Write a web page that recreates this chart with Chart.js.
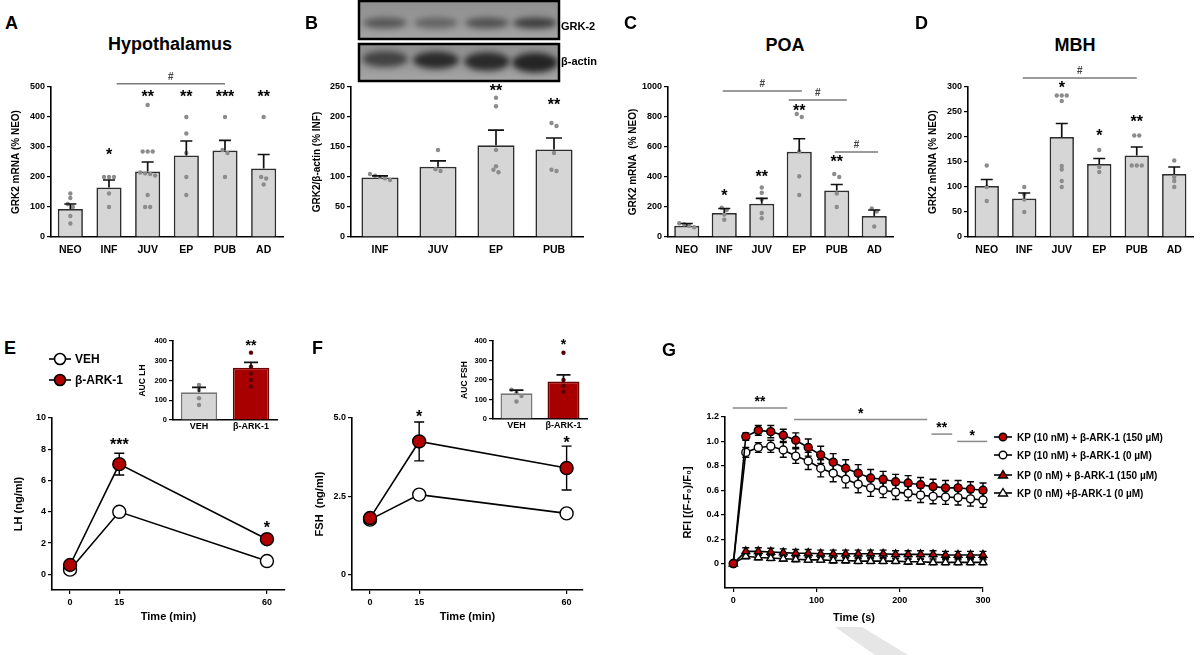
<!DOCTYPE html>
<html>
<head>
<meta charset="utf-8">
<script src="https://cdn.jsdelivr.net/npm/chart.js@4.4.1/dist/chart.umd.min.js"></script>
<style>
body{margin:0;background:#fff;width:1200px;height:655px;position:relative;overflow:hidden;
  font-family:'Liberation Sans',Arial,sans-serif;font-weight:bold;color:#000}
canvas{position:absolute}
.t{position:absolute;white-space:nowrap;line-height:1}
.let{font-size:18px}
.ttl{font-size:18px;transform:translateX(-50%)}
.lg{position:absolute;display:flex;align-items:center;white-space:nowrap}
.lg svg{margin-right:4px}
</style>
</head>
<body>
<canvas id="blot"></canvas>
<canvas id="wm"></canvas>
<canvas id="cA"></canvas>
<canvas id="cB"></canvas>
<canvas id="cC"></canvas>
<canvas id="cD"></canvas>
<canvas id="cE"></canvas>
<canvas id="cEi"></canvas>
<canvas id="cF"></canvas>
<canvas id="cFi"></canvas>
<canvas id="cG"></canvas>

<div class="t let" style="left:5px;top:14px">A</div>
<div class="t let" style="left:305px;top:14px">B</div>
<div class="t let" style="left:624px;top:14px">C</div>
<div class="t let" style="left:915px;top:14px">D</div>
<div class="t let" style="left:4px;top:339px">E</div>
<div class="t let" style="left:312px;top:339px">F</div>
<div class="t let" style="left:662px;top:341px">G</div>
<div class="t ttl" style="left:170px;top:35px">Hypothalamus</div>
<div class="t ttl" style="left:785px;top:36px">POA</div>
<div class="t ttl" style="left:1075px;top:36px">MBH</div>
<div class="t" style="left:561px;top:21px;font-size:11px">GRK-2</div>
<div class="t" style="left:561px;top:56px;font-size:11px">β-actin</div>

<div class="lg" style="left:49px;top:351px;font-size:12px">
  <svg width="22" height="16"><line x1="0" y1="8" x2="22" y2="8" stroke="#000" stroke-width="1.6"/><circle cx="11" cy="8" r="5.5" fill="#fff" stroke="#000" stroke-width="1.6"/></svg>VEH</div>
<div class="lg" style="left:49px;top:372px;font-size:12px">
  <svg width="22" height="16"><line x1="0" y1="8" x2="22" y2="8" stroke="#000" stroke-width="1.6"/><circle cx="11" cy="8" r="5.5" fill="#b00000" stroke="#000" stroke-width="1.6"/></svg>β-ARK-1</div>

<div id="legG"></div>

<script>
// ---- data ----
const stages = ['NEO', 'INF', 'JUV', 'EP', 'PUB', 'AD'];
const stagesB = ['INF', 'JUV', 'EP', 'PUB'];

const hypoMean = [93, 165, 218, 272, 288, 228];
const hypoSem = [17, 25, 32, 48, 34, 47];
const hypoDots = [
  [45, 70, 100, 110, 130, 145],
  [100, 145, 200, 200, 200],
  [100, 100, 140, 205, 210, 212, 215, 285, 285, 285, 440],
  [140, 200, 280, 345, 400],
  [200, 280, 290, 400],
  [175, 195, 200, 400]
];
const hypoTicks = [0, 100, 200, 300, 400, 500];

const wbMean = [99, 117, 153, 146];
const wbSem = [3, 10, 25, 19];
const wbDots = [
  [95, 98, 100, 102, 105],
  [110, 113, 145],
  [108, 112, 118, 145, 218, 232],
  [110, 112, 140, 185, 190]
];
const wbTicks = [0, 50, 100, 150, 200, 250];

const poaMean = [75, 160, 222, 568, 310, 140];
const poaSem = [15, 30, 36, 87, 40, 40];
const poaDots = [
  [65, 75, 85, 92],
  [115, 150, 180, 195],
  [125, 160, 250, 295, 330],
  [280, 405, 570, 800, 820],
  [200, 290, 400, 420],
  [70, 170, 190]
];
const poaTicks = [0, 200, 400, 600, 800, 1000];

const mbhMean = [102, 77, 200, 146, 163, 126];
const mbhSem = [13, 11, 27, 11, 17, 14];
const mbhDots = [
  [72, 100, 143],
  [50, 75, 85, 100],
  [100, 112, 135, 142, 272, 283, 283, 283],
  [130, 140, 174],
  [143, 143, 143, 203, 203],
  [100, 112, 120, 153]
];
const mbhTicks = [0, 50, 100, 150, 200, 250, 300];

const treat = ['VEH', 'β-ARK-1'];
const aucLhMean = [140, 265];
const aucLhSem = [25, 27];
const aucLhDots = [[76, 110, 152, 177], [169, 203, 236, 270, 341]];
const aucFshMean = [132, 192];
const aucFshSem = [16, 34];
const aucFshDots = [[90, 118, 135, 150], [140, 170, 200, 340]];
const aucTicks = [0, 100, 200, 300, 400];

const timeMin = [0, 15, 60];
const lhVeh = [0.3, 4.0, 0.85];
const lhVehSem = [0.1, 0.15, 0.1];
const lhArk = [0.6, 7.05, 2.25];
const lhArkSem = [0.15, 0.7, 0.2];
const lhTicks = [0, 2, 4, 6, 8, 10];
const fshVeh = [1.75, 2.55, 1.95];
const fshVehSem = [0.1, 0.1, 0.1];
const fshArk = [1.8, 4.25, 3.4];
const fshArkSem = [0.1, 0.62, 0.7];
const fshTicks = [0, 2.5, 5];
const fshTickLabels = ['0', '2.5', '5.0'];
const minTicks = [0, 15, 60];

const timeSec = [0, 15, 30, 45, 60, 75, 90, 105, 120, 135, 150, 165, 180, 195, 210, 225, 240, 255, 270, 285, 300];
const kp10Ark = [0, 1.04, 1.09, 1.08, 1.05, 1.01, 0.95, 0.89, 0.83, 0.78, 0.74, 0.70, 0.69, 0.67, 0.66, 0.645, 0.63, 0.62, 0.62, 0.61, 0.60];
const kp10ArkSem = [0, 0.03, 0.04, 0.05, 0.05, 0.06, 0.07, 0.07, 0.07, 0.07, 0.07, 0.07, 0.065, 0.06, 0.06, 0.06, 0.06, 0.06, 0.06, 0.06, 0.06];
const kp10Veh = [0, 0.91, 0.95, 0.96, 0.93, 0.88, 0.84, 0.78, 0.74, 0.69, 0.65, 0.62, 0.60, 0.585, 0.575, 0.56, 0.55, 0.545, 0.54, 0.53, 0.52];
const kp10VehSem = [0, 0.04, 0.04, 0.05, 0.06, 0.06, 0.07, 0.07, 0.07, 0.07, 0.07, 0.07, 0.06, 0.06, 0.06, 0.06, 0.06, 0.06, 0.06, 0.06, 0.06];
const kp0Ark = [0, 0.10, 0.10, 0.095, 0.09, 0.085, 0.085, 0.08, 0.08, 0.08, 0.08, 0.08, 0.08, 0.075, 0.075, 0.075, 0.075, 0.07, 0.07, 0.07, 0.07];
const kp0ArkSem = [0, 0.03, 0.03, 0.03, 0.03, 0.03, 0.03, 0.03, 0.03, 0.03, 0.03, 0.03, 0.03, 0.03, 0.03, 0.03, 0.03, 0.03, 0.03, 0.03, 0.03];
const kp0Veh = [0, 0.06, 0.05, 0.045, 0.04, 0.035, 0.03, 0.03, 0.025, 0.025, 0.02, 0.02, 0.02, 0.02, 0.015, 0.015, 0.01, 0.01, 0.01, 0.01, 0.01];
const kp0VehSem = [0, 0.02, 0.02, 0.02, 0.02, 0.02, 0.02, 0.02, 0.02, 0.02, 0.02, 0.02, 0.02, 0.02, 0.02, 0.02, 0.02, 0.02, 0.02, 0.02, 0.02];
const secTicks = [0, 100, 200, 300];
const rfiTicks = [0, 0.2, 0.4, 0.6, 0.8, 1.0, 1.2];
const rfiTickLabels = ['0', '0.2', '0.4', '0.6', '0.8', '1.0', '1.2'];
const gLabels = ['KP (10 nM) + β-ARK-1 (150 µM)', 'KP (10 nM) + β-ARK-1 (0 µM)', 'KP (0 nM) + β-ARK-1 (150 µM)', 'KP (0 nM) +β-ARK-1 (0 µM)'];

// ---- setup ----
Chart.defaults.font.family = "'Liberation Sans', Arial, sans-serif";
Chart.defaults.font.weight = 'bold';
Chart.defaults.color = '#000';
Chart.defaults.animation = false;
Chart.defaults.plugins.legend.display = false;
Chart.defaults.plugins.tooltip.enabled = false;

const FONT = "'Liberation Sans', Arial, sans-serif";
const fixY = w => s => { s.width = w; s.paddingTop = 0; s.paddingBottom = 0; };
const fixX = h => s => { s.height = h; s.paddingLeft = 0; s.paddingRight = 0; };
const setTicks = arr => s => { s.ticks = arr.map(v => ({value: v})); };

function place(cv, area, yW, xH, padT, padR, padB) {
  const left = area.l - yW, top = area.t - padT;
  const w = area.r - left + padR, h = area.b + xH + padB - top;
  cv.style.left = left + 'px'; cv.style.top = top + 'px';
  cv.width = w; cv.height = h;
  cv.style.width = w + 'px'; cv.style.height = h + 'px';
  return {left: 0, top: padT, right: padR, bottom: padB};
}

function jitter(ys, gap) {
  const order = ys.map((v, i) => i).sort((a, b) => ys[a] - ys[b]);
  const off = ys.map(() => 0);
  let grp = [];
  const flush = () => { grp.forEach((k, j) => { off[k] = (j - (grp.length - 1) / 2) * gap; }); grp = []; };
  order.forEach(k => {
    if (grp.length && Math.abs(ys[k] - ys[grp[grp.length - 1]]) > 3.5) flush();
    grp.push(k);
  });
  flush();
  return off;
}

// asterisks sit high in the em box, so push them down a bit
function star(ctx, text, x, y, size) {
  size = size || 16;
  ctx.font = 'bold ' + size + 'px ' + FONT;
  ctx.textAlign = 'center';
  ctx.textBaseline = 'middle';
  ctx.fillStyle = '#000';
  ctx.fillText(text, x, y + size * 0.25);
}

function barPanel(o) {
  const cv = document.getElementById(o.id);
  const pad = place(cv, o.area, o.yW, o.xH, o.padT || 30, 6, 2);
  const top = o.ticks[o.ticks.length - 1];
  new Chart(cv, {
    type: 'bar',
    data: {
      labels: o.labels,
      datasets: [{
        data: o.mean,
        backgroundColor: o.colors || '#d6d6d6',
        borderColor: o.borders || '#2e2e2e',
        borderWidth: 1.7,
        barPercentage: o.bp,
        categoryPercentage: 1
      }]
    },
    options: {
      responsive: false,
      layout: {padding: pad},
      scales: {
        x: {
          grid: {display: false, drawTicks: false},
          border: {display: true, color: '#000', width: 1.6},
          ticks: {font: {size: o.catSize || 10.5}, padding: o.catPad || 7, color: '#000', autoSkip: false, maxRotation: 0},
          afterFit: fixX(o.xH)
        },
        y: {
          min: 0, max: top,
          afterBuildTicks: setTicks(o.ticks),
          grid: {display: true, drawOnChartArea: false, drawTicks: true, tickLength: 4, color: '#000', lineWidth: 1.2},
          border: {display: true, color: '#000', width: 1.6},
          ticks: {font: {size: o.tickSize || 9}, padding: 2, color: '#000', callback: v => String(v)},
          title: {display: true, text: o.yTitle, font: {size: o.titleSize || 10}, padding: 0, color: '#000'},
          afterFit: fixY(o.yW)
        }
      }
    },
    plugins: [{
      id: 'marks',
      afterDatasetsDraw(chart) {
        const ctx = chart.ctx, ys = chart.scales.y, bars = chart.getDatasetMeta(0).data;
        ctx.save();
        // dots
        o.dots.forEach((vals, i) => {
          const py = vals.map(v => ys.getPixelForValue(v));
          const off = jitter(py, 5);
          ctx.fillStyle = o.dotColor ? o.dotColor[i] : '#8c8c8c';
          py.forEach((y, k) => {
            ctx.beginPath(); ctx.arc(bars[i].x + off[k], y, 2.2, 0, Math.PI * 2); ctx.fill();
          });
        });
        // error bars (upper)
        ctx.strokeStyle = '#111'; ctx.lineWidth = 1.7;
        bars.forEach((b, i) => {
          const y0 = ys.getPixelForValue(o.mean[i]), y1 = ys.getPixelForValue(o.mean[i] + o.sem[i]);
          ctx.beginPath();
          ctx.moveTo(b.x, y0); ctx.lineTo(b.x, y1);
          ctx.moveTo(b.x - o.cap, y1); ctx.lineTo(b.x + o.cap, y1);
          ctx.stroke();
        });
        // stars
        (o.stars || []).forEach(s => star(ctx, s.text, bars[s.i].x, ys.getPixelForValue(s.y), o.starSize));
        // # comparison lines
        const slot = bars[1].x - bars[0].x;
        (o.sigs || []).forEach(s => {
          const xa = bars[0].x + s.from * slot, xb = bars[0].x + s.to * slot, yy = ys.getPixelForValue(s.y);
          ctx.strokeStyle = '#7a7a7a'; ctx.lineWidth = 1.5;
          ctx.beginPath(); ctx.moveTo(xa, yy); ctx.lineTo(xb, yy); ctx.stroke();
          ctx.font = 'bold 10px ' + FONT; ctx.fillStyle = '#444';
          ctx.textAlign = 'center'; ctx.textBaseline = 'alphabetic';
          ctx.fillText('#', (xa + xb) / 2, yy - 4);
        });
        ctx.restore();
      }
    }]
  });
}

function linePanel(o) {
  const cv = document.getElementById(o.id);
  const pad = place(cv, o.area, o.yW, o.xH, o.padT || 30, 12, 2);
  new Chart(cv, {
    type: 'line',
    data: {
      datasets: o.series.map(s => ({
        data: o.x.map((t, i) => ({x: t, y: s.y[i]})),
        borderColor: '#000', borderWidth: 1.6,
        pointStyle: s.style, pointRadius: s.r,
        pointBackgroundColor: s.fill, pointBorderColor: '#000', pointBorderWidth: 1.4,
        tension: 0, order: s.order, clip: false
      }))
    },
    options: {
      responsive: false,
      layout: {padding: pad},
      scales: {
        x: {
          type: 'linear', min: o.xMin, max: o.xMax,
          afterBuildTicks: setTicks(o.xTicks),
          grid: {display: true, drawOnChartArea: false, drawTicks: true, tickLength: 4, color: '#000', lineWidth: 1.2},
          border: {display: true, color: '#000', width: 1.6},
          ticks: {font: {size: 9}, padding: 3, color: '#000', autoSkip: false, maxRotation: 0},
          title: {display: true, text: o.xTitle, font: {size: 11}, padding: 0, color: '#000'},
          afterFit: fixX(o.xH)
        },
        y: {
          min: o.yMin, max: o.yMax,
          afterBuildTicks: setTicks(o.yTicks),
          grid: {display: true, drawOnChartArea: false, drawTicks: true, tickLength: 4, color: '#000', lineWidth: 1.2},
          border: {display: true, color: '#000', width: 1.6},
          ticks: {font: {size: 9}, padding: 2, color: '#000',
            callback: (v, i) => o.yLabels ? o.yLabels[i] : String(v)},
          title: {display: true, text: o.yTitle, font: {size: 11}, padding: 0, color: '#000'},
          afterFit: fixY(o.yW)
        }
      }
    },
    plugins: [{
      id: 'errs',
      beforeDatasetsDraw(chart) {
        const ctx = chart.ctx, xs = chart.scales.x, ys = chart.scales.y;
        ctx.save();
        ctx.strokeStyle = '#000'; ctx.lineWidth = 1.4;
        o.series.forEach(s => {
          o.x.forEach((t, i) => {
            if (!s.sem[i]) return;
            const px = xs.getPixelForValue(t);
            const ya = ys.getPixelForValue(s.y[i] - s.sem[i]), yb = ys.getPixelForValue(s.y[i] + s.sem[i]);
            ctx.beginPath();
            ctx.moveTo(px, ya); ctx.lineTo(px, yb);
            ctx.moveTo(px - o.cap, ya); ctx.lineTo(px + o.cap, ya);
            ctx.moveTo(px - o.cap, yb); ctx.lineTo(px + o.cap, yb);
            ctx.stroke();
          });
        });
        ctx.restore();
      },
      afterDatasetsDraw(chart) {
        const ctx = chart.ctx, xs = chart.scales.x, ys = chart.scales.y;
        ctx.save();
        (o.sigs || []).forEach(s => {
          const yy = ys.getPixelForValue(s.y);
          ctx.strokeStyle = '#8a8a8a'; ctx.lineWidth = 1.5;
          ctx.beginPath(); ctx.moveTo(xs.getPixelForValue(s.x0), yy); ctx.lineTo(xs.getPixelForValue(s.x1), yy); ctx.stroke();
          star(ctx, s.text, xs.getPixelForValue((s.x0 + s.x1) / 2), yy - 9, 14);
        });
        (o.stars || []).forEach(s => star(ctx, s.text, xs.getPixelForValue(s.x), ys.getPixelForValue(s.y), 16));
        ctx.restore();
      }
    }]
  });
}

// ---- panels A-D ----
barPanel({id: 'cA', area: {l: 51, r: 283, t: 87, b: 237}, yW: 41, xH: 25, labels: stages,
  mean: hypoMean, sem: hypoSem, dots: hypoDots, ticks: hypoTicks, bp: 0.65, cap: 6,
  yTitle: 'GRK2 mRNA (% NEO)',
  stars: [{i: 1, text: '*', y: 285}, {i: 2, text: '**', y: 478}, {i: 3, text: '**', y: 478}, {i: 4, text: '***', y: 478}, {i: 5, text: '**', y: 478}],
  sigs: [{from: 1.2, to: 4.0, y: 511}]});

barPanel({id: 'cB', area: {l: 351, r: 583, t: 87, b: 237}, yW: 40, xH: 25, labels: stagesB,
  mean: wbMean, sem: wbSem, dots: wbDots, ticks: wbTicks, bp: 0.64, cap: 8,
  yTitle: 'GRK2/β-actin (% INF)',
  stars: [{i: 2, text: '**', y: 249}, {i: 3, text: '**', y: 226}]});

barPanel({id: 'cC', area: {l: 668, r: 893, t: 87, b: 237}, yW: 41, xH: 25, labels: stages,
  mean: poaMean, sem: poaSem, dots: poaDots, ticks: poaTicks, bp: 0.67, cap: 6,
  yTitle: 'GRK2 mRNA  (% NEO)',
  stars: [{i: 1, text: '*', y: 293}, {i: 2, text: '**', y: 422}, {i: 3, text: '**', y: 860}, {i: 4, text: '**', y: 520}],
  sigs: [{from: 0.96, to: 3.07, y: 973}, {from: 2.72, to: 4.27, y: 913}, {from: 3.95, to: 5.1, y: 567}]});

barPanel({id: 'cD', area: {l: 968, r: 1193, t: 87, b: 237}, yW: 41, xH: 25, labels: stages,
  mean: mbhMean, sem: mbhSem, dots: mbhDots, ticks: mbhTicks, bp: 0.65, cap: 6,
  yTitle: 'GRK2 mRNA (% NEO)',
  stars: [{i: 2, text: '*', y: 305}, {i: 3, text: '*', y: 208}, {i: 4, text: '**', y: 237}],
  sigs: [{from: 0.96, to: 4.0, y: 318}]});

// ---- E / F insets ----
barPanel({id: 'cEi', area: {l: 173, r: 277, t: 341, b: 420}, yW: 35, xH: 14, padT: 12, labels: treat,
  mean: aucLhMean, sem: aucLhSem, dots: aucLhDots, ticks: aucTicks, bp: 0.7, cap: 7,
  colors: ['#d6d6d6', '#a80000'], borders: ['#777', '#6a0000'], dotColor: ['#888', '#5a0000'],
  catSize: 9, catPad: 1, tickSize: 7.5, titleSize: 8.5, yTitle: 'AUC LH', starSize: 14,
  stars: [{i: 1, text: '**', y: 392}]});

barPanel({id: 'cFi', area: {l: 493, r: 587, t: 341, b: 419}, yW: 33, xH: 14, padT: 12, labels: treat,
  mean: aucFshMean, sem: aucFshSem, dots: aucFshDots, ticks: aucTicks, bp: 0.68, cap: 7,
  colors: ['#d6d6d6', '#a80000'], borders: ['#777', '#6a0000'], dotColor: ['#888', '#5a0000'],
  catSize: 9, catPad: 1, tickSize: 7.5, titleSize: 8.5, yTitle: 'AUC FSH', starSize: 14,
  stars: [{i: 1, text: '*', y: 395}]});

// ---- E / F time courses ----
linePanel({id: 'cE', area: {l: 52, r: 285, t: 418, b: 590}, yW: 40, xH: 34,
  x: timeMin, xMin: -5.5, xMax: 65.5, xTicks: minTicks, xTitle: 'Time (min)',
  yMin: -1, yMax: 10, yTicks: lhTicks, yTitle: 'LH (ng/ml)', cap: 5,
  series: [
    {y: lhArk, sem: lhArkSem, fill: '#b00000', style: 'circle', r: 6.5, order: 0},
    {y: lhVeh, sem: lhVehSem, fill: '#ffffff', style: 'circle', r: 6.5, order: 1}
  ],
  stars: [{x: 15, y: 8.5, text: '***'}, {x: 60, y: 3.2, text: '*'}]});

linePanel({id: 'cF', area: {l: 352, r: 583, t: 418, b: 590}, yW: 39, xH: 34,
  x: timeMin, xMin: -5.5, xMax: 65, xTicks: minTicks, xTitle: 'Time (min)',
  yMin: -0.5, yMax: 5, yTicks: fshTicks, yLabels: fshTickLabels, yTitle: 'FSH  (ng/ml)', cap: 5,
  series: [
    {y: fshArk, sem: fshArkSem, fill: '#b00000', style: 'circle', r: 6.5, order: 0},
    {y: fshVeh, sem: fshVehSem, fill: '#ffffff', style: 'circle', r: 6.5, order: 1}
  ],
  stars: [{x: 15, y: 5.15, text: '*'}, {x: 60, y: 4.3, text: '*'}]});

// ---- G calcium imaging ----
linePanel({id: 'cG', area: {l: 725, r: 983, t: 417, b: 588}, yW: 44, xH: 37,
  x: timeSec, xMin: -10, xMax: 300, xTicks: secTicks, xTitle: 'Time (s)',
  yMin: -0.2, yMax: 1.2, yTicks: rfiTicks, yLabels: rfiTickLabels, yTitle: 'RFI [(F-F₀)/F₀]', cap: 3.5,
  series: [
    {y: kp10Ark, sem: kp10ArkSem, fill: '#c00000', style: 'circle', r: 4, order: 0},
    {y: kp10Veh, sem: kp10VehSem, fill: '#ffffff', style: 'circle', r: 4, order: 1},
    {y: kp0Ark, sem: kp0ArkSem, fill: '#c00000', style: 'triangle', r: 4.5, order: 2},
    {y: kp0Veh, sem: kp0VehSem, fill: '#ffffff', style: 'triangle', r: 4.5, order: 3}
  ],
  sigs: [{x0: -1, x1: 65, y: 1.273, text: '**'}, {x0: 73, x1: 233, y: 1.18, text: '*'},
         {x0: 238, x1: 263, y: 1.06, text: '**'}, {x0: 269, x1: 305, y: 1.0, text: '*'}]});

// ---- G legend ----
const gFill = ['#c00000', '#ffffff', '#c00000', '#ffffff'];
const gTop = [430, 448, 468, 486];
document.getElementById('legG').innerHTML = gLabels.map((lab, i) => {
  const mk = i < 2
    ? `<circle cx="10" cy="7" r="3.8" fill="${gFill[i]}" stroke="#000" stroke-width="1.4"/>`
    : `<polygon points="10,2.5 14.5,10 5.5,10" fill="${gFill[i]}" stroke="#000" stroke-width="1.4"/>`;
  return `<div class="lg" style="left:993px;top:${gTop[i]}px;font-size:10px">
    <svg width="20" height="14"><line x1="1" y1="7" x2="19" y2="7" stroke="#000" stroke-width="1.6"/>${mk}</svg>${lab}</div>`;
}).join('');

// ---- western blot picture (B) ----
(function () {
  const cv = document.getElementById('blot');
  cv.width = 204; cv.height = 84;
  cv.style.left = '357px'; cv.style.top = '0px';
  const ctx = cv.getContext('2d');
  const boxes = [{y: 1, h: 38}, {y: 44, h: 37}];
  const lanes = [28, 79, 130, 178];
  const grk = [0.55, 0.45, 0.6, 0.75];
  const act = [0.7, 0.9, 0.9, 0.95];
  boxes.forEach((b, k) => {
    const g = ctx.createLinearGradient(0, b.y, 0, b.y + b.h);
    g.addColorStop(0, '#8e8e8e'); g.addColorStop(1, '#a4a4a4');
    ctx.fillStyle = g;
    ctx.fillRect(2, b.y, 200, b.h);
    ctx.save();
    ctx.beginPath(); ctx.rect(2, b.y, 200, b.h); ctx.clip();
    ctx.filter = 'blur(3px)';
    lanes.forEach((cx, i) => {
      const a = k === 0 ? grk[i] : act[i];
      ctx.fillStyle = `rgba(30,30,30,${a})`;
      ctx.beginPath();
      if (k === 0) ctx.ellipse(cx, b.y + 22, 22, 5.5, 0, 0, Math.PI * 2);
      else ctx.ellipse(cx, b.y + 15 + i * 1.2, 23, 8 + i * 0.6, 0, 0, Math.PI * 2);
      ctx.fill();
    });
    ctx.restore();
    ctx.strokeStyle = '#000'; ctx.lineWidth = 2.5;
    ctx.strokeRect(2, b.y, 200, b.h);
  });
})();

// ---- faint watermark stroke ----
(function () {
  const cv = document.getElementById('wm');
  cv.width = 200; cv.height = 40;
  cv.style.left = '820px'; cv.style.top = '615px';
  const ctx = cv.getContext('2d');
  ctx.fillStyle = '#e6e6e6';
  ctx.beginPath();
  ctx.moveTo(15, 12); ctx.lineTo(42, 12); ctx.lineTo(88, 40); ctx.lineTo(55, 40);
  ctx.closePath(); ctx.fill();
})();
</script>
</body>
</html>
